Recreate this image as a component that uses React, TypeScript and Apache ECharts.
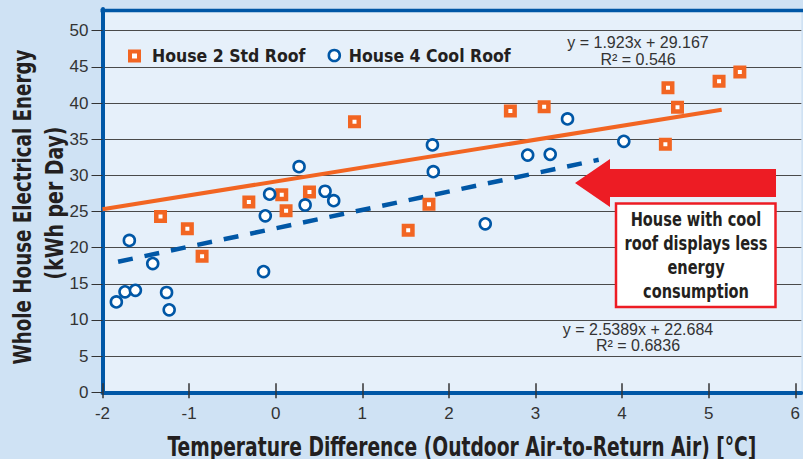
import React, { useEffect, useRef } from 'react';
import * as echarts from 'echarts';

const seriesNames = ['House 2 Std Roof', 'House 4 Cool Roof'];

// House 2 (standard roof) measurements
const house2X = [-1.33, -1.02, -0.85, -0.31, 0.07, 0.12, 0.39, 0.91, 1.53, 1.77, 2.71, 3.10, 4.50, 4.53, 4.64, 5.12, 5.36];
const house2Y = [24.3, 22.6, 18.8, 26.3, 27.3, 25.1, 27.7, 37.4, 22.4, 26.0, 38.9, 39.5, 34.3, 42.1, 39.4, 43.0, 44.3];

// House 4 (cool roof) measurements
const house4X = [-1.84, -1.74, -1.62, -1.69, -1.42, -1.26, -1.23, -0.14, -0.12, -0.07, 0.27, 0.34, 0.57, 0.67, 1.81, 1.82, 2.42, 2.91, 3.17, 3.37, 4.02];
const house4Y = [12.5, 13.9, 14.1, 21.0, 17.8, 13.8, 11.4, 16.7, 24.4, 27.4, 31.2, 25.9, 27.8, 26.5, 34.2, 30.5, 23.3, 32.8, 32.9, 37.8, 34.7];

// Linear trend lines (end points)
const trend2X = [-2, 5.15];
const trend2Y = [25.3, 39.07];
const trend4X = [-1.82, 3.73];
const trend4Y = [18.06, 32.15];

const xTickValues = [-2, -1, 0, 1, 2, 3, 4, 5, 6];
const yTickValues = [0, 5, 10, 15, 20, 25, 30, 35, 40, 45, 50];

const equation2 = ['y = 1.923x + 29.167', 'R² = 0.546'];
const equation4 = ['y = 2.5389x + 22.684', 'R² = 0.6836'];
const annotationLines = ['House with cool', 'roof displays less', 'energy', 'consumption'];
const xTitle = 'Temperature Difference (Outdoor Air-to-Return Air) [°C]';
const yTitleLines = ['Whole House Electrical Energy', '(kWh per Day)'];

const ORANGE = '#f26522';
const BLUE = '#0057a6';
const RED = '#ed1c24';
const NARROW = "'Liberation Sans Narrow', 'DejaVu Sans Condensed', sans-serif";
const REG = "'Liberation Sans', Arial, sans-serif";

const zip = (xs: number[], ys: number[]) => xs.map((x, i) => [x, ys[i]]);

let measureCtx: CanvasRenderingContext2D | null = null;
const measure = (text: string, font: string) => {
  if (!measureCtx) measureCtx = document.createElement('canvas').getContext('2d');
  if (!measureCtx) return 1;
  measureCtx.font = font;
  return measureCtx.measureText(text).width || 1;
};
const fitScale = (text: string, font: string, target: number) => Math.min(1, target / measure(text, font));

export default function App() {
  const ref = useRef<HTMLDivElement>(null);
  useEffect(() => {
    if (!ref.current) return;
    const chart = echarts.init(ref.current, undefined, { renderer: 'svg' });

    const xTitleFont = `bold 26px ${NARROW}`;
    const yTitleFont = `bold 24px ${NARROW}`;
    const noteFont = `bold 19px ${NARROW}`;

    const legendText = { fontFamily: NARROW, fontWeight: 'bold', fontSize: 17.5, color: '#231f20' };

    const option: any = {
      animation: false,
      backgroundColor: '#cfe2f4',
      grid: {
        left: 102.5, right: 0, top: 9, bottom: 66.7,
        show: true, backgroundColor: '#e6f0fa', borderWidth: 0,
      },
      legend: [
        {
          data: [{ name: seriesNames[0], itemStyle: { borderWidth: 4 } }],
          left: 123, top: 42, itemWidth: 9, itemHeight: 9,
          textStyle: { ...legendText, padding: [0, 0, 0, 8] },
        },
        {
          data: [{ name: seriesNames[1], itemStyle: { borderWidth: 2.6 } }],
          left: 322.5, top: 41.5, itemWidth: 11, itemHeight: 11,
          textStyle: { ...legendText, padding: [0, 0, 0, 4] },
        },
      ],
      xAxis: [
        {
          type: 'value', min: -2, max: 6.07, interval: 1,
          axisLine: { show: true, onZero: false, lineStyle: { color: BLUE, width: 4 } },
          axisTick: { show: true, length: 6, customValues: xTickValues, lineStyle: { color: '#333', width: 1.5 } },
          axisLabel: { customValues: xTickValues, fontFamily: REG, fontSize: 17, color: '#333', margin: 13 },
          splitLine: { show: false },
        },
        {
          type: 'value', min: -2, max: 6.07, interval: 1, position: 'bottom',
          axisLine: { show: false, onZero: false },
          axisTick: { show: true, inside: true, length: 9, customValues: xTickValues, lineStyle: { color: '#333', width: 1.5 } },
          axisLabel: { show: false },
          splitLine: { show: false },
        },
      ],
      yAxis: {
        type: 'value', min: 0, max: 53, interval: 5,
        axisLine: { show: true, onZero: false, lineStyle: { color: BLUE, width: 4 } },
        axisTick: { show: true, length: 11, customValues: yTickValues, lineStyle: { color: '#333', width: 1 } },
        axisLabel: { customValues: yTickValues, fontFamily: REG, fontSize: 17, color: '#333', margin: 14 },
        splitLine: { show: true, lineStyle: { color: '#4a4a4a', width: 1.2 } },
      },
      series: [
        {
          name: seriesNames[0], type: 'scatter', data: zip(house2X, house2Y),
          symbol: 'rect', symbolSize: 8.5, z: 4,
          itemStyle: { color: '#ffffff', borderColor: ORANGE, borderWidth: 4.5, opacity: 1 },
        },
        {
          name: seriesNames[1], type: 'scatter', data: zip(house4X, house4Y),
          symbol: 'circle', symbolSize: 11, z: 4,
          itemStyle: { color: '#ffffff', borderColor: BLUE, borderWidth: 2.6, opacity: 1 },
        },
        {
          name: 'trend2', type: 'line', data: zip(trend2X, trend2Y), showSymbol: false, symbol: 'none', z: 3,
          lineStyle: { color: ORANGE, width: 4 },
        },
        {
          name: 'trend4', type: 'line', data: zip(trend4X, trend4Y), showSymbol: false, symbol: 'none', z: 3,
          lineStyle: { color: BLUE, width: 4.5, type: [15, 12] },
        },
      ],
      graphic: [
        { type: 'line', z: 10, shape: { x1: 100.5, y1: 10.5, x2: 803, y2: 10.5 }, style: { stroke: BLUE, lineWidth: 3.5 } },
        {
          type: 'text', x: 638, y: 42.5, z: 10,
          style: { text: equation2[0], font: `16px ${REG}`, fill: '#333', align: 'center', verticalAlign: 'middle' },
        },
        {
          type: 'text', x: 638, y: 59, z: 10,
          style: { text: equation2[1], font: `16px ${REG}`, fill: '#333', align: 'center', verticalAlign: 'middle' },
        },
        {
          type: 'text', x: 638, y: 329, z: 10,
          style: { text: equation4[0], font: `16px ${REG}`, fill: '#333', align: 'center', verticalAlign: 'middle' },
        },
        {
          type: 'text', x: 638, y: 345.5, z: 10,
          style: { text: equation4[1], font: `16px ${REG}`, fill: '#333', align: 'center', verticalAlign: 'middle' },
        },
        {
          type: 'polygon', z: 10,
          shape: { points: [[575, 183], [610, 159], [610, 169], [776, 169], [776, 197], [610, 197], [610, 207]] },
          style: { fill: RED },
        },
        {
          type: 'rect', z: 10, shape: { x: 616, y: 203.5, width: 159.5, height: 103.5 },
          style: { fill: '#ffffff', stroke: RED, lineWidth: 2.5 },
        },
        {
          type: 'text', x: 696, y: 256, z: 11,
          scaleX: fitScale(annotationLines[1], noteFont, 143),
          style: {
            text: annotationLines.join('\n'), font: noteFont, fill: '#231f20',
            align: 'center', verticalAlign: 'middle', lineHeight: 24,
          },
        },
        {
          type: 'text', x: 462, y: 447, z: 10,
          scaleX: fitScale(xTitle, xTitleFont, 589),
          style: { text: xTitle, font: xTitleFont, fill: '#231f20', align: 'center', verticalAlign: 'middle' },
        },
        {
          type: 'text', x: 22, y: 207, z: 10, rotation: Math.PI / 2,
          scaleX: fitScale(yTitleLines[0], yTitleFont, 315),
          style: { text: yTitleLines[0], font: yTitleFont, fill: '#231f20', align: 'center', verticalAlign: 'middle' },
        },
        {
          type: 'text', x: 54, y: 203, z: 10, rotation: Math.PI / 2,
          scaleX: fitScale(yTitleLines[1], yTitleFont, 153),
          style: { text: yTitleLines[1], font: yTitleFont, fill: '#231f20', align: 'center', verticalAlign: 'middle' },
        },
      ],
    };
    chart.setOption(option);
    return () => chart.dispose();
  }, []);
  return <div ref={ref} style={{ position: 'fixed', left: 0, top: 0, width: 803, height: 459 }} />;
}
